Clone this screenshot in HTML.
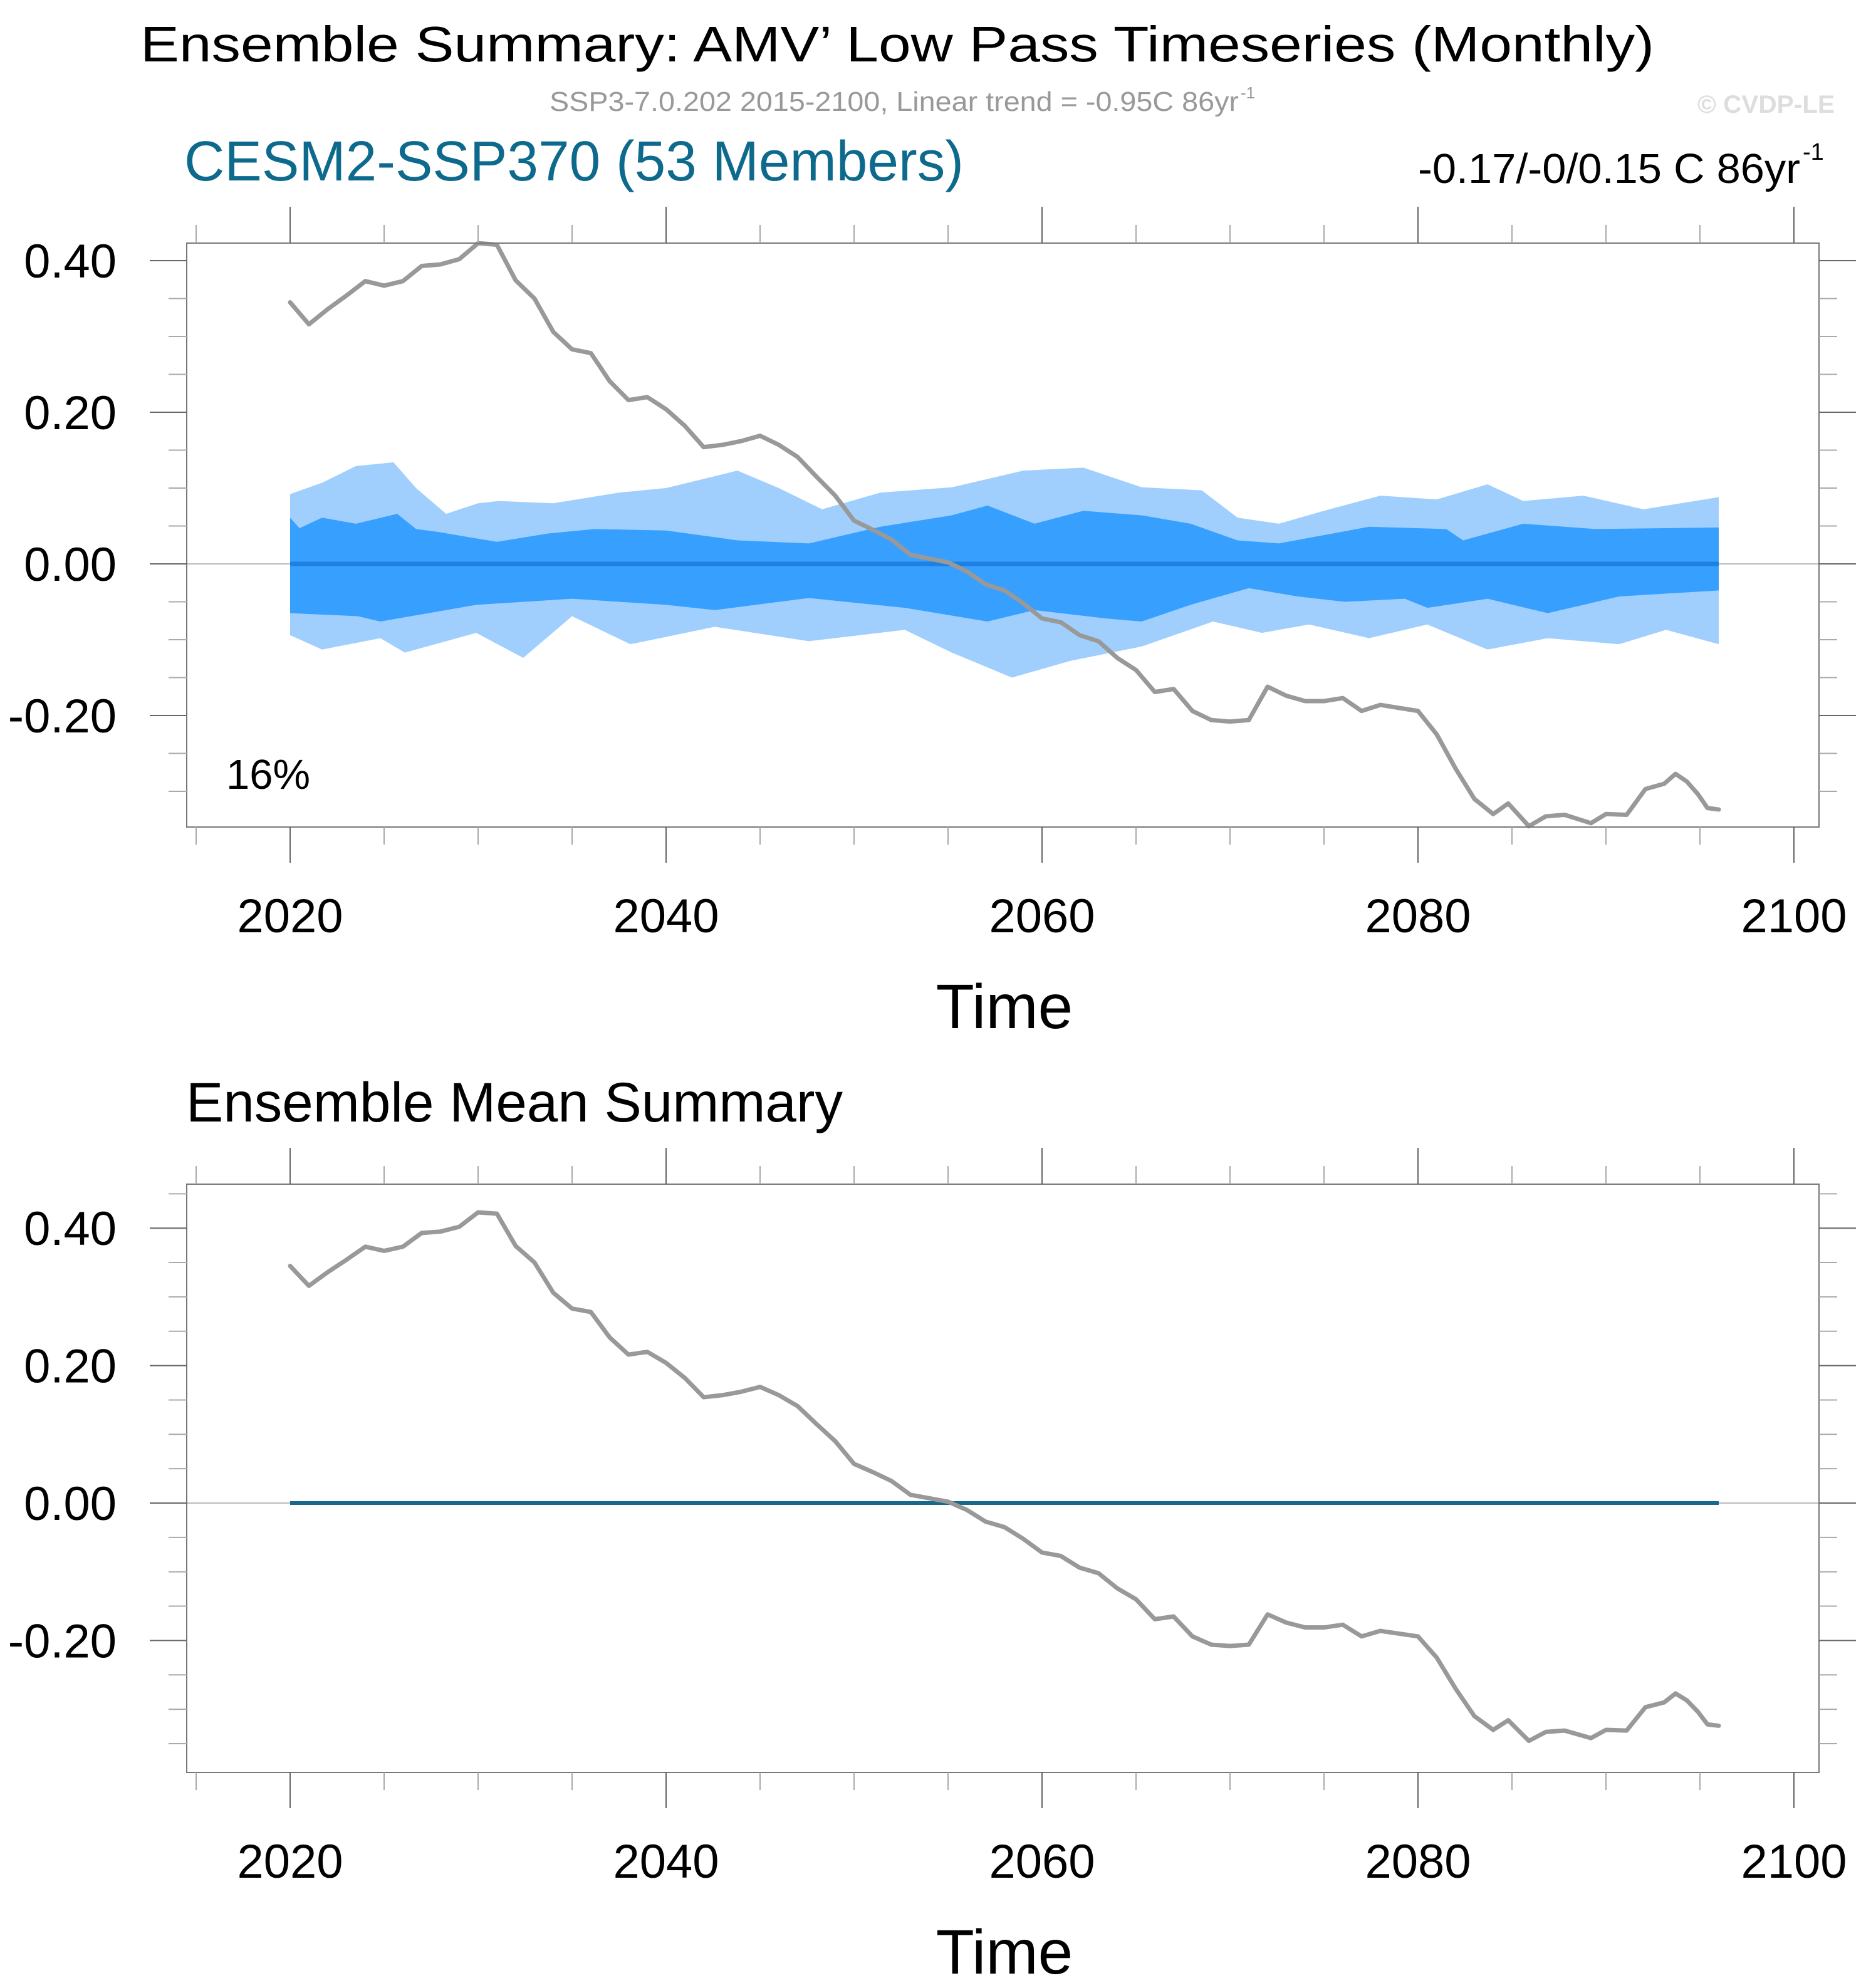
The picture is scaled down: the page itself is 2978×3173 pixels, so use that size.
<!DOCTYPE html>
<html><head><meta charset="utf-8"><style>
html,body{margin:0;padding:0;background:#fff}
svg{display:block;font-family:"Liberation Sans",Arial,sans-serif}
</style></head><body>
<svg id="chart" xmlns="http://www.w3.org/2000/svg" width="2978" height="3173" viewBox="0 0 2978 3173">
<rect width="2978" height="3173" fill="#fff"/>
<text x="224" y="98" font-size="80" textLength="2416" lengthAdjust="spacingAndGlyphs">Ensemble Summary: AMV’ Low Pass Timeseries (Monthly)</text>
<text x="877" y="177" font-size="44" fill="#999" textLength="1100" lengthAdjust="spacingAndGlyphs">SSP3-7.0.202 2015-2100, Linear trend = -0.95C 86yr</text>
<text x="1980" y="157" font-size="26" fill="#999">-1</text>
<text x="2709" y="180" font-size="40" font-weight="bold" fill="#ddd" textLength="219" lengthAdjust="spacingAndGlyphs">© CVDP-LE</text>
<text x="294" y="288" font-size="90" fill="#0e6a8c" textLength="1244" lengthAdjust="spacingAndGlyphs">CESM2-SSP370 (53 Members)</text>
<text x="2263" y="292" font-size="67" textLength="610" lengthAdjust="spacingAndGlyphs">-0.17/-0/0.15 C 86yr</text>
<text x="2877" y="255" font-size="38">-1</text>
<text x="297" y="1790" font-size="89" textLength="1048" lengthAdjust="spacingAndGlyphs">Ensemble Mean Summary</text>
<g id="p1"></g>
<g id="p2"></g>
</svg>
<script>
// Observed AMV low-pass series (shared by both panels)
const obsYears = [2020,2021,2022,2023,2024,2025,2026,2027,2028,2029,2030,2031,2032,2033,2034,2035,2036,2037,2038,2039,2040,2041,2042,2043,2044,2045,2046,2047,2048,2049,2050,2051,2052,2053,2054,2055,2056,2057,2058,2059,2060,2061,2062,2063,2064,2065,2066,2067,2068,2069,2070,2071,2072,2073,2074,2075,2076,2077,2078,2079,2080,2081,2082,2083,2084,2084.8,2085.9,2086.8,2087.8,2089.2,2090,2091.1,2092.1,2093.1,2093.7,2094.3,2094.9,2095.4,2096];
const obsValues = [0.345,0.316,0.336,0.354,0.373,0.367,0.373,0.393,0.395,0.402,0.423,0.421,0.374,0.35,0.306,0.283,0.278,0.241,0.216,0.22,0.204,0.182,0.154,0.157,0.162,0.169,0.157,0.141,0.115,0.09,0.057,0.045,0.032,0.012,0.007,0.002,-0.01,-0.027,-0.035,-0.052,-0.072,-0.077,-0.094,-0.102,-0.124,-0.14,-0.169,-0.165,-0.194,-0.206,-0.208,-0.206,-0.162,-0.174,-0.181,-0.181,-0.177,-0.194,-0.186,-0.19,-0.194,-0.225,-0.27,-0.31,-0.33,-0.316,-0.346,-0.333,-0.331,-0.342,-0.33,-0.331,-0.297,-0.29,-0.277,-0.287,-0.304,-0.322,-0.324];
// Ensemble spread bands (top panel)
const lightUpYears = [2020,2021.7,2023.5,2025.5,2026.7,2028.3,2030,2031.1,2034,2037.5,2040,2043.8,2046,2048.3,2051.4,2055.2,2059,2062.2,2065.3,2068.5,2070.4,2072.6,2075,2078,2081,2083.7,2085.6,2088.8,2092,2096];
const lightUpValues = [0.092,0.107,0.129,0.134,0.1,0.066,0.08,0.083,0.08,0.094,0.1,0.123,0.1,0.072,0.094,0.101,0.123,0.127,0.101,0.097,0.061,0.053,0.07,0.09,0.085,0.105,0.083,0.09,0.072,0.088];
const darkUpYears = [2020,2020.5,2021.7,2023.5,2025.7,2026.7,2027.9,2031,2033.7,2036.2,2040,2043.8,2047.6,2051.4,2055.2,2057.1,2059.6,2062.2,2065.3,2067.9,2070.4,2072.6,2077.4,2081.5,2082.4,2085.6,2089.4,2096];
const darkUpValues = [0.061,0.047,0.061,0.053,0.066,0.046,0.042,0.029,0.04,0.046,0.044,0.031,0.027,0.049,0.064,0.077,0.053,0.07,0.064,0.053,0.031,0.027,0.049,0.046,0.031,0.053,0.046,0.048];
const darkLowYears = [2020,2023.6,2024.8,2029.9,2035,2040,2042.6,2047.6,2052.7,2057.1,2059.6,2063.4,2065.3,2067.9,2071,2073.6,2076.1,2079.3,2080.5,2083.7,2086.9,2090.7,2096];
const darkLowValues = [-0.065,-0.069,-0.076,-0.054,-0.046,-0.054,-0.061,-0.045,-0.058,-0.076,-0.061,-0.072,-0.076,-0.054,-0.032,-0.043,-0.05,-0.046,-0.058,-0.046,-0.065,-0.043,-0.035];
const lightLowYears = [2020,2021.7,2024.8,2026.1,2029.9,2032.4,2035,2038.1,2042.6,2047.6,2052.7,2055.2,2058.4,2061.5,2065.3,2069.1,2071.7,2074.2,2077.4,2080.5,2083.7,2086.9,2090.7,2093.2,2096];
const lightLowValues = [-0.094,-0.113,-0.098,-0.117,-0.091,-0.124,-0.069,-0.106,-0.083,-0.102,-0.087,-0.117,-0.15,-0.128,-0.109,-0.076,-0.091,-0.08,-0.098,-0.08,-0.113,-0.098,-0.106,-0.087,-0.106];
const ensMeanYears = [2020,2096];
const ensMeanValues = [0,0];
const xTickYears = [2020,2040,2060,2080,2100];
const xMinorYears = [2015,2025,2030,2035,2045,2050,2055,2065,2070,2075,2085,2090,2095];
const yTickValues = [0.4,0.2,0,-0.2];
const yTickLabels = ["0.40","0.20","0.00","-0.20"];
const pctLabel = "16%";

const NS = "http://www.w3.org/2000/svg";
function mk(parent, tag, attrs){ const e=document.createElementNS(NS,tag); for(const k in attrs) e.setAttribute(k,attrs[k]); parent.appendChild(e); return e; }
const xS = yr => 463 + (yr-2020)*30;
const L=298, R=2903;

function drawPanel(g, top, bottom, zeroY, pxPerUnit, isTop){
  const yS = v => zeroY - v*pxPerUnit;
  const vMax=(zeroY-top)/pxPerUnit, vMin=(zeroY-bottom)/pxPerUnit;
  if(isTop){
    const lp=[]; lightUpYears.forEach((y,i)=>lp.push(xS(y)+','+yS(lightUpValues[i])));
    for(let i=lightLowYears.length-1;i>=0;i--) lp.push(xS(lightLowYears[i])+','+yS(lightLowValues[i]));
    const a=mk(g,'polygon',{points:lp.join(' '),fill:'#a0cffe'});
    
    
    const dp=[]; darkUpYears.forEach((y,i)=>dp.push(xS(y)+','+yS(darkUpValues[i])));
    for(let i=darkLowYears.length-1;i>=0;i--) dp.push(xS(darkLowYears[i])+','+yS(darkLowValues[i]));
    const b=mk(g,'polygon',{points:dp.join(' '),fill:'#379ffe'});
    
    
  }
  const zl=mk(g,'line',{x1:L,x2:R,y1:yS(0),y2:yS(0),stroke:'#bbb','stroke-width':2});
  
  
  const em=mk(g,'polyline',{points:ensMeanYears.map((y,i)=>xS(y)+','+yS(ensMeanValues[i])).join(' '),fill:'none',stroke:isTop?'#1e80e0':'#16698a','stroke-width':isTop?7:6});
  
  
  const ob=mk(g,'polyline',{points:obsYears.map((y,i)=>xS(y)+','+yS(obsValues[i])).join(' '),fill:'none',stroke:'#999','stroke-width':7,'stroke-linejoin':'round','stroke-linecap':'round'});
  
  
  const fr=mk(g,'rect',{x:L,y:top,width:R-L,height:bottom-top,fill:'none',stroke:'#777','stroke-width':2});
  
  
  for(let v=Math.ceil(vMin/0.05)*0.05; v<=vMax+1e-9; v+=0.05){
    const major = Math.abs(v*100 - Math.round(v*100/20)*20)<0.5;
    const len = major?59:29, y=yS(v);
    const t1=mk(g,'line',{x1:L-len,x2:L,y1:y,y2:y,stroke:major?'#666':'#aaa','stroke-width':2});
    
    
    const t2=mk(g,'line',{x1:R,x2:R+len,y1:y,y2:y,stroke:major?'#666':'#aaa','stroke-width':2});
    
    
  }
  yTickValues.forEach((v,i)=>{
    const t=mk(g,'text',{x:186,y:yS(v)+27,'font-size':76,'text-anchor':'end'});
    t.textContent=yTickLabels[i];
    
    
  });
  xTickYears.forEach(yr=>{
    const x=xS(yr);
    const a=mk(g,'line',{x1:x,x2:x,y1:top-58,y2:top,stroke:'#666','stroke-width':2});
    
    
    const b=mk(g,'line',{x1:x,x2:x,y1:bottom,y2:bottom+57,stroke:'#666','stroke-width':2});
    
    
    const t=mk(g,'text',{x:x,y:bottom+168,'font-size':76,'text-anchor':'middle'});
    t.textContent=String(yr);
    
    
  });
  xMinorYears.forEach(yr=>{
    const x=xS(yr);
    const a=mk(g,'line',{x1:x,x2:x,y1:top-29,y2:top,stroke:'#aaa','stroke-width':2});
    
    
    const b=mk(g,'line',{x1:x,x2:x,y1:bottom,y2:bottom+28,stroke:'#aaa','stroke-width':2});
    
    
  });
  const xt=mk(g,'text',{x:1603,y:bottom+321,'font-size':100,'text-anchor':'middle'});
  xt.textContent='Time';
  
  
  if(isTop){
    const p=mk(g,'text',{x:361,y:1259,'font-size':67});
    p.textContent=pctLabel;
    
    
  }
}
drawPanel(document.getElementById('p1'), 388, 1320, 900, 1210, true);
drawPanel(document.getElementById('p2'), 1890, 2829, 2399, 1097, false);
</script>
</body></html>
